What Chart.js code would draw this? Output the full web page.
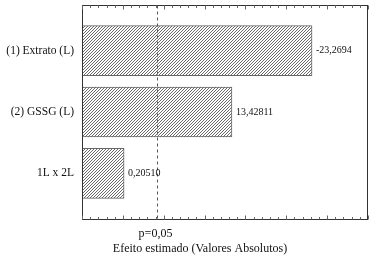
<!DOCTYPE html>
<html>
<head>
<meta charset="utf-8">
<script src="https://cdn.jsdelivr.net/npm/chart.js@4"></script>
<style>
  html, body { margin: 0; padding: 0; background: #fff; }
  #wrap { width: 373px; height: 258px; }
</style>
</head>
<body>
<div id="wrap"><canvas id="pareto"></canvas></div>
<script>
// Pareto chart of standardized effects
const categories = ['(1) Extrato (L)', '(2) GSSG (L)', '1L x 2L'];
const standardizedEffects = [11.26, 7.34, 2.06];
const effectLabels = ['-23,2694', '13,42811', '0,20510'];
const pCritical = 3.67;
const pLabel = 'p=0,05';
const axisTitle = 'Efeito estimado (Valores Absolutos)';

const serif = '"Liberation Serif", "Times New Roman", serif';

function hatch() {
  const c = document.createElement('canvas');
  c.width = 3; c.height = 3;
  const g = c.getContext('2d');
  g.fillStyle = '#fff';
  g.fillRect(0, 0, 3, 3);
  g.fillStyle = '#6a6a6a';
  g.fillRect(0, 2, 1, 1);
  g.fillRect(1, 1, 1, 1);
  g.fillRect(2, 0, 1, 1);
  return g.createPattern(c, 'repeat');
}

// frame, inner ticks, dashed p line and texts
const frame = {
  id: 'frame',
  afterDatasetsDraw(chart) {
    const ctx = chart.ctx;
    const xs = chart.scales.x;
    const area = chart.chartArea;
    const top = area.top - 14.5, bottom = area.bottom + 15.5;
    ctx.save();
    ctx.strokeStyle = '#333';
    ctx.lineWidth = 1;
    ctx.strokeRect(area.left + 0.5, top, area.right - area.left - 1, bottom - top);

    ctx.strokeStyle = '#666';
    for (let v = 0; v <= 14.001; v += 0.4) {
      const x = Math.round(xs.getPixelForValue(v)) + 0.5;
      const len = Math.abs(v / 2 - Math.round(v / 2)) < 0.01 ? 4 : 2.5;
      ctx.beginPath();
      ctx.moveTo(x, top); ctx.lineTo(x, top + len);
      ctx.moveTo(x, bottom); ctx.lineTo(x, bottom - len);
      ctx.stroke();
    }

    const px = Math.round(xs.getPixelForValue(pCritical)) + 0.5;
    ctx.setLineDash([3, 3]);
    ctx.strokeStyle = '#555';
    ctx.beginPath();
    ctx.moveTo(px, top); ctx.lineTo(px, bottom);
    ctx.stroke();
    ctx.setLineDash([]);

    ctx.fillStyle = '#111';
    ctx.font = '10px ' + serif;
    ctx.textBaseline = 'middle';
    ctx.textAlign = 'left';
    chart.getDatasetMeta(0).data.forEach((bar, i) => {
      ctx.fillText(effectLabels[i], bar.x + 4, bar.y);
    });

    ctx.font = '12px ' + serif;
    ctx.textAlign = 'center';
    ctx.fillText(pLabel, px - 2, bottom + 14);
    ctx.fillText(axisTitle, 200, bottom + 29);
    ctx.restore();
  }
};

new Chart(document.getElementById('pareto'), {
  type: 'bar',
  data: {
    labels: categories,
    datasets: [{
      data: standardizedEffects,
      backgroundColor: hatch(),
      borderColor: '#666',
      borderWidth: 1,
      borderSkipped: false,
      barThickness: 50
    }]
  },
  options: {
    indexAxis: 'y',
    responsive: true,
    maintainAspectRatio: false,
    animation: false,
    layout: { padding: { top: 20, bottom: 54, right: 5, left: 0 } },
    plugins: { legend: { display: false }, tooltip: { enabled: false } },
    scales: {
      x: {
        min: 0,
        max: 14,
        display: false
      },
      y: {
        border: { display: false },
        grid: { display: false },
        ticks: {
          color: '#111',
          padding: 0,
          font: { family: serif, size: 11.5 }
        },
        afterFit(scale) { scale.width = 82; }
      }
    }
  },
  plugins: [frame]
});
</script>
</body>
</html>
